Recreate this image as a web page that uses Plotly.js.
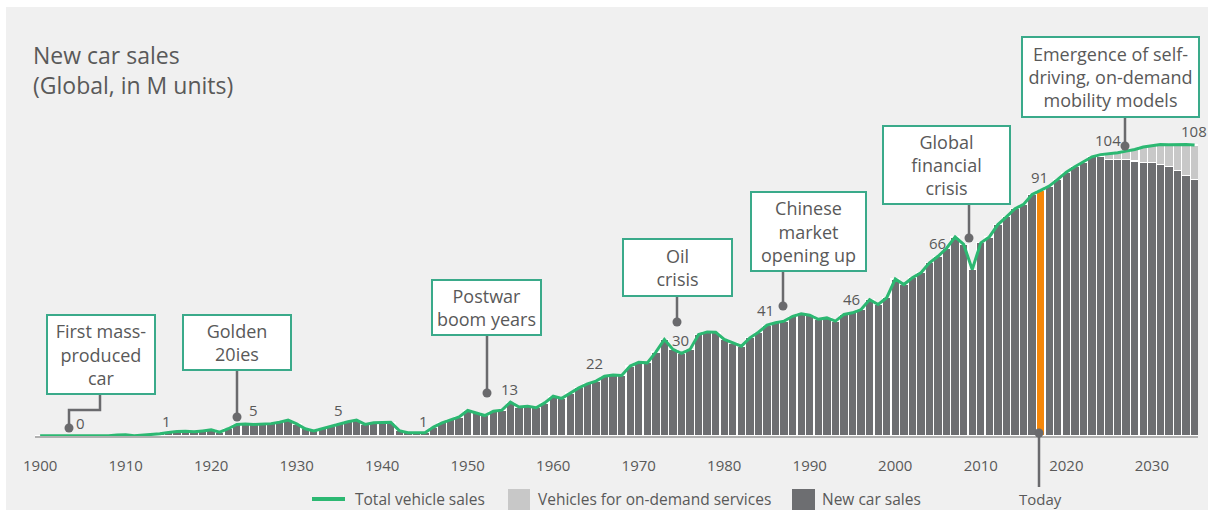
<!DOCTYPE html>
<html><head><meta charset="utf-8">
<script src="https://cdn.plot.ly/plotly-3.0.1.min.js"></script>
<style>html,body{margin:0;padding:0;background:#fff}#chart{width:1208px;height:510px}</style>
</head><body><div id="chart"></div>
<script>
// ---------- data ----------
const years = [1900,1901,1902,1903,1904,1905,1906,1907,1908,1909,
  1910,1911,1912,1913,1914,1915,1916,1917,1918,1919,
  1920,1921,1922,1923,1924,1925,1926,1927,1928,1929,
  1930,1931,1932,1933,1934,1935,1936,1937,1938,1939,
  1940,1941,1942,1943,1944,1945,1946,1947,1948,1949,
  1950,1951,1952,1953,1954,1955,1956,1957,1958,1959,
  1960,1961,1962,1963,1964,1965,1966,1967,1968,1969,
  1970,1971,1972,1973,1974,1975,1976,1977,1978,1979,
  1980,1981,1982,1983,1984,1985,1986,1987,1988,1989,
  1990,1991,1992,1993,1994,1995,1996,1997,1998,1999,
  2000,2001,2002,2003,2004,2005,2006,2007,2008,2009,
  2010,2011,2012,2013,2014,2015,2016,2017,2018,2019,
  2020,2021,2022,2023,2024,2025,2026,2027,2028,2029,
  2030,2031,2032,2033,2034,2035];
// New car sales (M units)
const newCarSales = [0.05,0.05,0.05,0.05,0.05,0.05,0.05,0.05,0.1,0.4,
  0.5,0.1,0.3,0.5,0.8,1.3,1.7,1.8,1.55,1.9,
  2.3,1.4,2.7,4.3,4.5,4.3,4.4,4.6,5.1,5.9,
  4.5,2.7,1.9,2.8,3.6,4.6,5.3,5.9,4.3,4.9,
  4.9,5.1,2.0,1.2,1.2,1.2,3.3,4.9,6.0,7.1,
  9.5,8.6,7.6,9.2,9.6,12.6,10.8,11.1,10.5,12.3,
  14.8,14.0,16.0,17.9,19.4,20.4,22.2,22.7,22.5,26.0,
  27.4,27.2,31.2,35.9,32.2,30.7,32.2,37.7,38.7,38.6,
  35.9,34.6,33.4,36.5,38.6,41.2,42.1,42.7,44.5,45.4,
  44.9,43.4,43.9,42.7,45.2,45.8,47.0,50.7,48.9,51.4,
  58.4,56.3,58.8,60.7,64.4,66.8,69.8,74.0,71.2,61.9,
  71.8,74.0,78.6,81.5,84.5,86.1,89.8,91.3,92.9,95.4,
  98.1,100.1,101.8,103.8,103.8,102.8,102.7,102.7,102.2,101.8,
  101.8,100.9,100.1,98.8,96.9,95.4];
// Vehicles for on-demand services (M units)
const onDemandYears = [2024,2025,2026,2027,2028,2029,2030,2031,2032,2033,2034,2035];
const onDemandSales = [0.8,2.1,2.6,3.2,4.3,5.6,6.2,7.5,8.2,9.6,11.5,12.8];
const todayYear = 2017;
const tickYears = [1900,1910,1920,1930,1940,1950,1960,1970,1980,1990,2000,2010,2020,2030];
const valueLabelTexts = ['0','1','5','5','1','13','22','30','41','46','66','91','104','108'];
const eventTexts = ['First mass-<br>produced<br>car','Golden<br>20ies','Postwar<br>boom years',
  'Oil<br>crisis','Chinese<br>market<br>opening up','Global<br>financial<br>crisis',
  'Emergence of self-<br>driving, on-demand<br>mobility models'];
const seriesNames = ['Total vehicle sales','Vehicles for on-demand services','New car sales'];

// total = new + on-demand
const totalSales = years.map((y, i) => {
  const j = onDemandYears.indexOf(y);
  return newCarSales[i] + (j >= 0 ? onDemandSales[j] : 0);
});

// ---------- geometry helpers (pixel -> paper) ----------
const W = 1208, H = 510, ML = 35, MR = 10, MT = 60, MB = 74;
const PW = W - ML - MR, PH = H - MT - MB;
const px = v => (v - ML) / PW;
const py = v => (H - MB - v) / PH;

const FONT = '"Open Sans", "DejaVu Sans", sans-serif';
const TXT = '#595959';
const GREEN = '#2cb872';
const BOX = '#3aaa8a';
const DARK = '#6d6e71';
const LIGHT = '#c8c8c8';
const ORANGE = '#f5870a';
const CONN = '#6a6a6d';

// ---------- traces ----------
const traces = [
  {type:'bar', x: years, y: newCarSales, name: seriesNames[2],
   marker:{color: years.map(y => y === todayYear ? ORANGE : DARK), line:{color:'#ffffff', width:1.2}},
   hoverinfo:'x+y'},
  {type:'bar', x: onDemandYears, y: onDemandSales, name: seriesNames[1],
   marker:{color: LIGHT, line:{color:'#ffffff', width:1.2}}, hoverinfo:'x+y'},
  {type:'scatter', mode:'lines', x: years, y: totalSales, name: seriesNames[0],
   line:{color: GREEN, width:3}, hoverinfo:'x+y'}
];

// ---------- decorations ----------
const boxes = [ // [cx, cy, w, h] in px
  [101, 354.5, 108, 79],
  [237, 342.5, 108, 55],
  [486.5, 307.5, 109, 55],
  [677.5, 267.5, 109, 57],
  [808.5, 231.5, 115, 79],
  [946.5, 165, 127, 78],
  [1110.5, 77, 177, 80]
];
const labelPos = [[80,423],[166,421],[253,410],[338,410],[423,421],[509,389],[594,363],
  [680,340],[765,310],[851,299],[937,243],[1039,177],[1108,140],[1194,131]];
const LY = 499; // legend / "Today" row
const connectors = [ // polylines in px
  [[69,428],[69,410],[100,410],[100,394]],
  [[237,417],[237,370]],
  [[487,393],[487,335]],
  [[677,322],[677,296]],
  [[783,306],[783,271]],
  [[969,238],[969,204]],
  [[1125,146],[1125,117]],
  [[1039,433],[1039,487]]
];

const annotations = [];
annotations.push({xref:'paper', yref:'paper', x: px(31), y: py(55), xanchor:'left', yanchor:'middle',
  text:'New car sales', showarrow:false, font:{family:FONT, size:23, color:TXT}});
annotations.push({xref:'paper', yref:'paper', x: px(31), y: py(85), xanchor:'left', yanchor:'middle',
  text:'(Global, in M units)', showarrow:false, font:{family:FONT, size:23, color:TXT}});
boxes.forEach((b, i) => annotations.push({
  xref:'paper', yref:'paper', x: px(b[0]), y: py(b[1]), xanchor:'center', yanchor:'middle',
  text: eventTexts[i], showarrow:false, align:'center', valign:'middle',
  width: b[2]-6, height: b[3]-6, bgcolor:'#ffffff', bordercolor: BOX, borderwidth:2, borderpad:2,
  font:{family:FONT, size:18, color:TXT}
}));
labelPos.forEach((p, i) => annotations.push({
  xref:'paper', yref:'paper', x: px(p[0]), y: py(p[1]), xanchor:'center', yanchor:'middle',
  text: valueLabelTexts[i], showarrow:false, font:{family:FONT, size:15, color:TXT}
}));
annotations.push({xref:'paper', yref:'paper', x: px(1040), y: py(LY), xanchor:'center', yanchor:'middle',
  text:'Today', showarrow:false, font:{family:FONT, size:15, color:TXT}});

const shapes = [
  // white frame strips (top / left)
  {type:'rect', xref:'paper', yref:'paper', x0: px(0), x1: px(W), y0: py(0), y1: py(7),
   fillcolor:'#ffffff', line:{width:0}, layer:'above'},
  {type:'rect', xref:'paper', yref:'paper', x0: px(0), x1: px(6), y0: py(0), y1: py(H),
   fillcolor:'#ffffff', line:{width:0}, layer:'above'}
];
connectors.forEach(c => {
  const d = c.map((p, k) => (k ? 'L' : 'M') + px(p[0]) + ',' + py(p[1])).join(' ');
  shapes.push({type:'path', xref:'paper', yref:'paper', path:d, line:{color:CONN, width:2.5}, layer:'above'});
  const p0 = c[0], r = 4.5;
  shapes.push({type:'circle', xref:'paper', yref:'paper',
    x0: px(p0[0]-r), x1: px(p0[0]+r), y0: py(p0[1]+r), y1: py(p0[1]-r),
    fillcolor:CONN, line:{width:0}, layer:'above'});
});

// manual legend row
shapes.push({type:'line', xref:'paper', yref:'paper', x0: px(312), x1: px(345), y0: py(LY), y1: py(LY),
  line:{color:GREEN, width:4}});
shapes.push({type:'rect', xref:'paper', yref:'paper', x0: px(508), x1: px(530), y0: py(510), y1: py(489),
  fillcolor:LIGHT, line:{width:0}});
shapes.push({type:'rect', xref:'paper', yref:'paper', x0: px(792), x1: px(815), y0: py(510), y1: py(489),
  fillcolor:DARK, line:{width:0}});
[[353, 0], [536, 1], [820, 2]].forEach(([x, k]) => annotations.push({
  xref:'paper', yref:'paper', x: px(x), y: py(LY), xanchor:'left', yanchor:'middle',
  text: seriesNames[k], showarrow:false, font:{family:FONT, size:15.5, color:TXT}}));

const layout = {
  width: W, height: H,
  margin:{l:ML, r:MR, t:MT, b:MB, pad:0},
  paper_bgcolor:'#f0f0f0', plot_bgcolor:'#f0f0f0',
  barmode:'stack', bargap:0,
  showlegend:false,
  xaxis:{range:[1899.4, 2035.4], tickvals: tickYears, ticktext: tickYears.map(String),
    ticks:'outside', ticklen:15, tickcolor:'rgba(0,0,0,0)', showgrid:false, zeroline:false,
    showline:true, linecolor:'#b0b0b0', linewidth:2, automargin:false,
    tickfont:{family:FONT, size:15, color:TXT}, fixedrange:true},
  yaxis:{range:[0, PH/2.69], visible:false, fixedrange:true, automargin:false},
  annotations, shapes,
  font:{family:FONT, color:TXT}
};

Plotly.newPlot('chart', traces, layout, {displayModeBar:false, staticPlot:true});
</script>
</body></html>
